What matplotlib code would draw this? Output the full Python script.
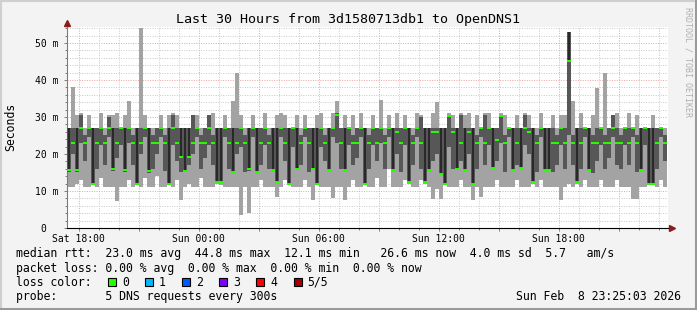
import numpy as np
import matplotlib.pyplot as plt
from matplotlib.patches import Rectangle
from matplotlib.ticker import MultipleLocator, FuncFormatter

plt.rcParams["font.family"] = ["DejaVu Sans Mono"]

# 12-minute bins starting Sat 17:25 (hours since Sat 00:00), values in ms
start_hour = 17 + 25 / 60
bin_hours = 0.2

median = [15.7, 23, 15.7, 27, 23, 27, 11.9, 23, 27, 23,
          27, 16, 23, 27, 15.7, 27, 23, 11.8, 23, 27,
          15.3, 23, 23, 27, 23, 11.8, 27, 23, 19.3, 15.5,
          19.3, 23, 27, 23, 23, 27, 23, 12.5, 12.5, 27,
          23, 15, 23, 27, 23, 16, 27, 15, 23, 27,
          23, 15.7, 12.5, 27, 23, 11.9, 27, 16, 23, 27,
          23, 16, 11.9, 27, 23, 15.7, 27, 30.5, 23, 15.7,
          27, 23, 23, 27, 11.9, 23, 27, 23, 27, 23,
          27, 15.7, 26, 23, 27, 12.5, 23, 27, 23, 12.5,
          15.7, 26, 26, 14.6, 11.9, 30.3, 26, 16, 23, 15.7,
          26, 11.9, 23, 27, 23, 27, 16.2, 23.8, 30.3, 23,
          27, 15.7, 23, 16.2, 27, 26, 12.5, 23, 27, 15.7,
          15.7, 23, 23, 27, 23, 45, 23, 12.5, 23, 27,
          15.7, 23, 23, 27, 23, 23, 27, 23, 23, 27,
          23, 27, 23, 15.7, 27, 11.9, 11.9, 23, 27, 23]

ping_max = [27, 38, 30.5, 31, 27, 30.5, 27, 27, 31, 27,
            30.5, 30.5, 31, 27, 30.5, 34.3, 27, 27, 54, 30.5,
            27, 27, 27, 30.5, 27, 30.5, 31, 30.5, 27, 27,
            27, 30.5, 30.5, 27, 27, 30.5, 31, 27, 27, 30.5,
            27, 34.3, 42, 30.5, 27, 27, 30.5, 27, 27, 31,
            27, 27, 30.5, 31, 30.5, 27, 27, 30.5, 27, 30.5,
            27, 27, 30.5, 31, 27, 27, 31, 34.3, 27, 30.5,
            27, 30.5, 27, 31, 27, 27, 30.5, 27, 34.6, 27,
            30.5, 27, 31, 27, 30.5, 27, 27, 31, 30.5, 27,
            27, 31, 34, 27, 27, 31, 30.5, 27, 31, 30.5,
            31, 27, 30.5, 27, 31, 31, 27, 27, 31, 30.5,
            27, 27, 30.5, 27, 31, 30.5, 27, 27, 31, 27,
            27, 30.5, 27, 30.5, 30.5, 52.9, 34.3, 27, 31, 27,
            27, 30.5, 37.8, 27, 42, 27, 30.5, 31, 27, 27,
            31, 27, 30.5, 27, 27, 27, 30.5, 27, 27, 27]

ping_min = [11, 11.2, 11.8, 13, 11.2, 11.2, 11.5, 11.2, 13.5, 11.2,
            11.2, 11.2, 7.3, 11.2, 11.2, 13, 11.2, 11.5, 11.2, 13.5,
            11.2, 11.2, 14, 11.2, 11.2, 11.5, 11.2, 13, 7.6, 11.2,
            12, 11.2, 11.2, 13.5, 11.2, 11.2, 11.2, 12, 11.5, 11.2,
            11.2, 11.2, 11.2, 3.5, 11.2, 4.1, 11.2, 11.2, 13, 11.2,
            11.2, 11.2, 8.5, 11.2, 13, 11.5, 11.2, 11.2, 11.2, 13,
            11.2, 7.6, 11.5, 11.2, 11.2, 11.2, 8.2, 11.2, 11.2, 7.6,
            11.2, 13, 11.2, 11.2, 11.5, 11.2, 11.2, 13.5, 11.2, 11.2,
            16, 11.2, 11.2, 11.2, 13, 12, 11.2, 11.2, 13, 12,
            11.2, 7.7, 10.5, 7.7, 11.5, 11.2, 11.2, 11.2, 13, 11.2,
            11.2, 7.6, 11.2, 8.5, 11.2, 11.2, 11.2, 13, 11.2, 11.2,
            11.2, 11.2, 13, 11.2, 11.2, 11.2, 12, 11.2, 13, 11.2,
            11.2, 11.2, 11.2, 7.6, 11.2, 12, 11.2, 12, 11.2, 13,
            11.2, 11.2, 11.2, 13, 11.2, 11.2, 11.2, 13, 11.2, 11.2,
            11.2, 7.7, 7.7, 11.2, 11.2, 11.5, 11.5, 11.2, 13, 11.2]

ping_lo = [15, 20, 15, 23, 18, 24.5, 11.8, 16, 22.5, 17,
           24.5, 15.5, 19, 22.5, 15, 23, 17, 11.7, 20, 24.5,
           14.8, 16, 20, 24.5, 15.5, 11.7, 22.5, 18, 15, 15,
           17, 20, 24.5, 16, 19, 22.5, 17, 12.4, 12.4, 24.5,
           16, 14.8, 20, 22, 15, 15.5, 24.5, 14.8, 17, 22.5,
           16, 15.5, 12.4, 24.5, 18, 11.8, 22, 15.8, 17, 24.5,
           15, 15.8, 11.8, 22, 18, 15.5, 24.5, 23, 16, 15.5,
           22.5, 17, 19, 24.5, 11.8, 16, 22.5, 18, 23, 16,
           24.5, 15.5, 20, 15, 22.5, 12.4, 17, 24.5, 16, 12.4,
           15.5, 18, 20, 14.4, 11.8, 22, 16, 15.8, 18, 15.5,
           20, 11.8, 16, 24.5, 17, 22.5, 16, 18, 23, 15,
           24.5, 15.5, 17, 16, 22.5, 20, 12.4, 15, 24.5, 15.5,
           15.5, 15, 17, 22.5, 16, 25, 17, 12.4, 16, 24.5,
           15.5, 14.8, 18, 22.5, 16, 19, 24.5, 17, 16, 22.5,
           17, 24.5, 15, 15.5, 22.5, 11.8, 11.8, 16, 24.5, 18]

ping_hi = [27, 27, 27, 30.5, 25, 27, 27, 27, 27, 25,
           30, 27, 27, 27, 27, 27, 25, 27, 27, 27,
           27, 25, 27, 27, 25, 27, 30.5, 27, 27, 27,
           27, 30.5, 27, 25, 27, 30.5, 25, 27, 27, 27,
           27, 27, 27, 27, 25, 27, 27, 27, 27, 27,
           25, 27, 27, 27, 27, 27, 27, 27, 25, 27,
           27, 27, 27, 27, 25, 27, 27, 31, 27, 27,
           27, 25, 27, 27, 27, 25, 27, 27, 27, 25,
           27, 27, 27, 27, 27, 27, 25, 27, 30, 27,
           27, 27, 27, 27, 27, 30.5, 27, 27, 30.5, 27,
           27, 27, 25, 27, 30.5, 27, 27, 27, 30.5, 25,
           27, 27, 27, 27, 30.4, 27, 27, 25, 27, 27,
           27, 27, 25, 27, 27, 52.9, 25, 27, 27, 27,
           27, 25, 27, 27, 25, 27, 30.5, 27, 25, 27,
           27, 27, 25, 27, 27, 27, 27, 27, 27, 25]

tick_names = {18: "Sat 18:00", 24: "Sun 00:00", 30: "Sun 06:00",
              36: "Sun 12:00", 42: "Sun 18:00"}

loss_labels = ["0", "1", "2", "3", "4", "5/5"]
loss_colors = ["#26ff00", "#00b8ff", "#0059ff", "#7e00ff", "#ff0000", "#a10000"]

title = "Last 30 Hours from 3d1580713db1 to OpenDNS1"
legend_lines = [
    "median rtt:  23.0 ms avg  44.8 ms max  12.1 ms min   26.6 ms now  4.0 ms sd  5.7   am/s",
    "packet loss: 0.00 % avg  0.00 % max  0.00 % min  0.00 % now",
    "loss color:",
    "probe:       5 DNS requests every 300s",
]
stamp = "Sun Feb  8 23:25:03 2026"

W, H = 697, 310
fig = plt.figure(figsize=(W / 100, H / 100), dpi=100, facecolor="#f3f3f3")
ax = fig.add_axes([67 / W, 82 / H, 601 / W, 201 / H])
ax.set_facecolor("white")

med = np.array(median)
lo = np.array(ping_min)
hi = np.array(ping_max)
q1 = np.array(ping_lo)
q3 = np.array(ping_hi)
x = start_hour + bin_hours * np.arange(len(med))

# smoke
ax.bar(x, hi - lo, bottom=lo, width=bin_hours, align="edge", color="#a3a3a3", lw=0, zorder=2)
ax.bar(x, q3 - q1, bottom=q1, width=bin_hours, align="edge", color="#575757", lw=0, zorder=3)
core = (med < 21) | (med > 40)
ax.vlines(x[core] + bin_hours / 2, med[core], q3[core], color="#1c1c1c", lw=1.1, zorder=4)
ax.hlines(med, x, x + bin_hours, color="#26ff00", lw=1.4, zorder=5)

ax.set_xlim(start_hour, start_hour + 601 / 20)
ax.set_ylim(0, 54.3)

# grid
ax.xaxis.set_major_locator(MultipleLocator(3))
ax.xaxis.set_minor_locator(MultipleLocator(1))
ax.xaxis.set_major_formatter(FuncFormatter(lambda v, p: tick_names.get(int(round(v)), "")))
ax.yaxis.set_major_locator(MultipleLocator(10))
ax.yaxis.set_minor_locator(MultipleLocator(2))
ax.yaxis.set_major_formatter(FuncFormatter(lambda v, p: "0  " if v == 0 else f"{v:.0f} m"))
ax.grid(which="minor", color="#c8c8c8", lw=0.7, linestyle=(0, (1, 1.5)), zorder=1)
ax.grid(which="major", color="#eba0a0", lw=0.7, linestyle=(0, (1, 1.5)), zorder=1)
ax.set_axisbelow(True)

ax.tick_params(which="both", direction="out", color="#808080", width=0.7)
ax.tick_params(which="major", length=2.5)
ax.tick_params(which="minor", length=1.5)
ax.tick_params(axis="y", labelsize=7, pad=3.5)
ax.tick_params(axis="x", labelsize=7, pad=1.5)

for s in ("top", "right"):
    ax.spines[s].set_visible(False)
ax.spines["left"].set_color("#7a7a7a")
ax.spines["left"].set_linewidth(0.8)
ax.spines["bottom"].set_color("black")
ax.spines["bottom"].set_linewidth(0.8)

# axis arrows
ax.plot([0, 0], [1, 1.02], transform=ax.transAxes, clip_on=False, color="#7a7a7a", lw=0.8)
ax.plot([1, 1.006], [0, 0], transform=ax.transAxes, clip_on=False, color="black", lw=0.8)
ax.plot([0], [1.022], marker="^", ms=4, color="#8b1c1c", transform=ax.transAxes, clip_on=False)
ax.plot([1.007], [0], marker=">", ms=4, color="#8b1c1c", transform=ax.transAxes, clip_on=False)

# texts
fig.text(0.5, 1 - 19 / H, title, ha="center", va="center", fontsize=9.6)
fig.text(11 / W, 1 - 127 / H, "Seconds", rotation=90, ha="center", va="center", fontsize=8.3)
fig.text(688 / W, 1 - 62 / H, "RRDTOOL / TOBI OETIKER", rotation=270, ha="center",
         va="center", fontsize=6, color="#b0b0b0")

rows = [254, 268.3, 282, 296.7]
for line, row in zip(legend_lines, rows):
    fig.text(16 / W, 1 - row / H, line, ha="left", va="center", fontsize=8.3)
fig.text(681 / W, 1 - rows[3] / H, stamp, ha="right", va="center", fontsize=8.3)

for k, (lab, col) in enumerate(zip(loss_labels, loss_colors)):
    left = 108 + 37.1 * k
    fig.add_artist(Rectangle((left / W, 1 - 285.5 / H), 8 / W, 8 / H, transform=fig.transFigure,
                             facecolor=col, edgecolor="black", lw=0.8))
    fig.text((left + 14) / W, 1 - rows[2] / H, lab, ha="left", va="center", fontsize=8.3)

# frame
fig.add_artist(Rectangle((0, 0), 1, 1, transform=fig.transFigure, fill=False,
                         edgecolor="#cfcfcf", lw=3))
fig.add_artist(Rectangle((0, 0), 1, 2.5 / H, transform=fig.transFigure, color="#9a9a9a", lw=0))
fig.add_artist(Rectangle((1 - 2.5 / W, 0), 2.5 / W, 1, transform=fig.transFigure, color="#9a9a9a", lw=0))

fig.savefig("out.png", dpi=100, facecolor=fig.get_facecolor())
